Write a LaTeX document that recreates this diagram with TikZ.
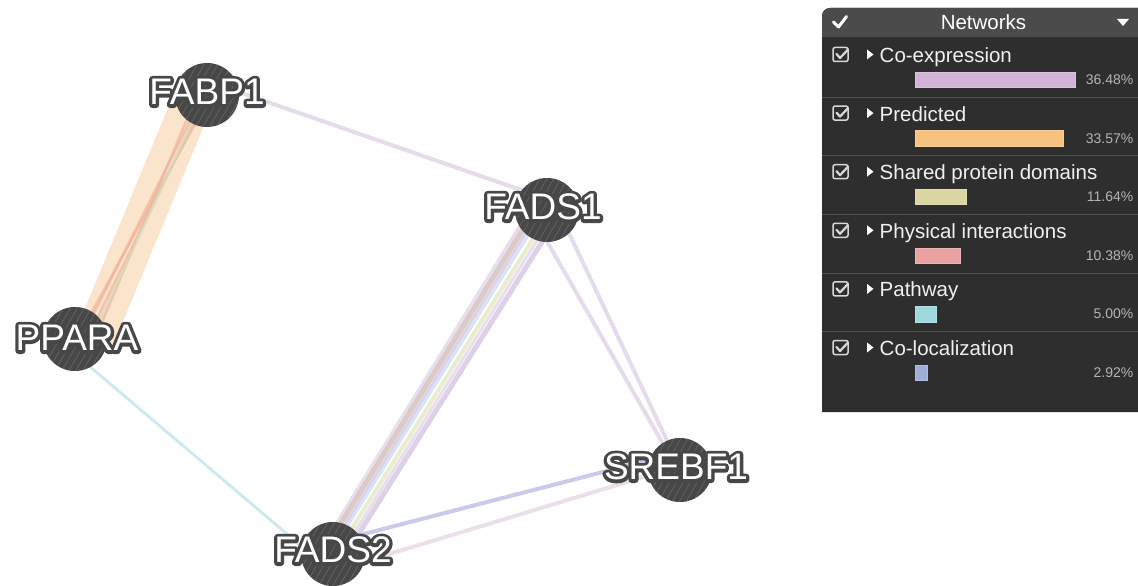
\documentclass[tikz,border=0pt]{standalone}
\usepackage{fontspec}
\setmainfont{Liberation Sans}
\usetikzlibrary{patterns.meta}
\definecolor{nodegray}{HTML}{474747}
\definecolor{hatch}{HTML}{626262}
\definecolor{coexp}{HTML}{D0B3D5}
\definecolor{pred}{HTML}{F7C17F}
\definecolor{shared}{HTML}{DBD5A2}
\definecolor{phys}{HTML}{E9A1A1}
\definecolor{pathw}{HTML}{9FD9DE}
\definecolor{coloc}{HTML}{9DAED9}
\definecolor{coexpline}{HTML}{E6DBEC}
\definecolor{purpline}{HTML}{DACBE5}
\definecolor{pathline}{HTML}{CCEBEF}
\definecolor{colocline}{HTML}{CACAEA}
\definecolor{pinkline}{HTML}{EDDFEA}
\definecolor{predband}{HTML}{FAE4CB}
\definecolor{physline}{HTML}{F2B39B}
\definecolor{greenline}{HTML}{D3DCBD}
\definecolor{taupeline}{HTML}{D6C6C2}
\definecolor{blueline}{HTML}{D2E2F3}
\definecolor{yellowline}{HTML}{E9EBC9}
\definecolor{panelbody}{HTML}{2E2E2E}
\definecolor{panelhead}{HTML}{4B4B4B}
\definecolor{sepline}{HTML}{505050}
\definecolor{pcttext}{HTML}{B5B5B5}
\definecolor{labtext}{HTML}{F0F0F0}
\definecolor{chkcol}{HTML}{D8D8D8}
\newcommand\outltext[1]{\leavevmode\rlap{\color{nodegray}\special{pdf:literal direct 2 Tr 6.6 w 1 j 1 J}#1\special{pdf:literal direct 0 Tr}}#1}
\pgfdeclarelayer{bg}
\pgfdeclarelayer{edges}
\pgfsetlayers{bg,edges,main}
\begin{document}
\begin{tikzpicture}[x=1pt,y=-1pt,
  gene/.style={circle, minimum size=64pt, inner sep=0pt, fill=nodegray,
    postaction={pattern={Lines[angle=60,distance=6pt,line width=0.8pt]}, pattern color=hatch}},
  glabel/.style={font=\fontsize{37}{37}\selectfont, text=white, inner sep=0pt},
  coexpedge/.style={line width=4pt, color=coexpline},
  pathedge/.style={line width=3pt, color=pathline},
  coledge/.style={line width=4pt, color=colocline},
  pinkedge/.style={line width=4pt, color=pinkline},
  physedge/.style={line width=2.5pt, color=physline, opacity=0.7},
  greenedge/.style={line width=2.5pt, color=greenline, opacity=0.8},
  bundle/.style={line width=4pt, opacity=0.9},
  lab/.style={font=\fontsize{20.5}{24}\selectfont, text=labtext, inner sep=0pt, anchor=base west},
  pct/.style={font=\fontsize{14}{16}\selectfont, text=pcttext, inner sep=0pt, anchor=base east},
  chk/.style={draw=chkcol, line width=1.5pt}
]
\begin{pgfonlayer}{bg}
\fill[white] (0,0) rectangle (1138,586);
\end{pgfonlayer}
\useasboundingbox (0,0) rectangle (1138,586);

% genes
\node[gene, label={[glabel, yshift=3pt]center:\outltext{FABP1}}] (fabp1) at (207,95) {};
\node[gene, label={[glabel, xshift=2pt, yshift=1pt]center:\outltext{PPARA}}] (ppara) at (75,339) {};
\node[gene, label={[glabel, xshift=-4pt, yshift=3pt]center:\outltext{FADS1}}] (fads1) at (547,210) {};
\node[gene, label={[glabel, xshift=-4pt, yshift=3pt]center:\outltext{SREBF1}}] (srebf1) at (680,470) {};
\node[gene, label={[glabel, yshift=4pt]center:\outltext{FADS2}}] (fads2) at (333,554) {};

\begin{pgfonlayer}{edges}
% FABP1 - PPARA
\draw[line width=40pt, color=predband] ([shift={(-12,0)}]fabp1.center) -- ([shift={(19,0)}]ppara.center);
\draw[physedge] ([shift={(-10,0)}]fabp1.center) -- ([shift={(20,0)}]ppara.center);
\draw[physedge] ([shift={(-4,0)}]fabp1.center) -- ([shift={(6,0)}]ppara.center);
\draw[physedge] ([shift={(0,0)}]fabp1.center) -- ([shift={(12,0)}]ppara.center);
\draw[physedge] ([shift={(4,0)}]fabp1.center) -- ([shift={(2,0)}]ppara.center);
\draw[greenedge] ([shift={(-2,0)}]fabp1.center) -- ([shift={(16,0)}]ppara.center);
% FABP1 - FADS1
\draw[coexpedge] ([shift={(0,-14)}]fabp1.center) -- ([shift={(0,-11)}]fads1.center);
% PPARA - FADS2
\draw[pathedge] ([shift={(0,15)}]ppara.center) -- ([shift={(0,19)}]fads2.center);
% FADS1 - FADS2 bundle
\draw[bundle, color=coexpline] ([shift={(-17,0)}]fads1.center) -- ([shift={(-15,0)}]fads2.center);
\draw[bundle, color=taupeline, line width=5pt] ([shift={(-12,0)}]fads1.center) -- ([shift={(-11,0)}]fads2.center);
\draw[bundle, color=purpline, line width=3pt] ([shift={(-7,0)}]fads1.center) -- ([shift={(-6,0)}]fads2.center);
\draw[bundle, color=blueline, line width=3pt] ([shift={(-3,0)}]fads1.center) -- ([shift={(-3,0)}]fads2.center);
\draw[bundle, color=yellowline] ([shift={(4,0)}]fads1.center) -- ([shift={(3,0)}]fads2.center);
\draw[bundle, color=coexpline, line width=3pt] ([shift={(9,0)}]fads1.center) -- ([shift={(8,0)}]fads2.center);
\draw[bundle, color=purpline, line width=5pt] ([shift={(15,0)}]fads1.center) -- ([shift={(13,0)}]fads2.center);
% FADS1 - SREBF1
\draw[coexpedge] ([shift={(-18,0)}]fads1.center) -- ([shift={(-2,0)}]srebf1.center);
\draw[coexpedge] ([shift={(11,0)}]fads1.center) -- ([shift={(1,0)}]srebf1.center);
% FADS2 - SREBF1
\draw[coledge] ([shift={(0,-12)}]fads2.center) -- ([shift={(0,-18)}]srebf1.center);
\draw[pinkedge] ([shift={(0,17)}]fads2.center) -- ([shift={(0,-4)}]srebf1.center);
\end{pgfonlayer}

% legend panel
\fill[panelbody] (822,412) [rounded corners=8pt]-- (822,8) [sharp corners]-- (1138,8) -- (1138,412) -- cycle;
\fill[panelhead] (822,37) [rounded corners=8pt]-- (822,8) [sharp corners]-- (1138,8) -- (1138,37) -- cycle;
\draw[white, line width=3pt, line cap=round, line join=round] (833.5,22) -- (838.5,27) -- (846.5,16.5);
\fill[white] (1117,19) -- (1129,19) -- (1123,26) -- cycle;
\node[font=\fontsize{20.5}{24}\selectfont, text=white, inner sep=0pt, anchor=base] (nettitle) at (983.5,30) {Networks};

\foreach \lab/\w/\col/\pc [count=\i from 0] in
  {Co-expression/160/coexp/36.48\%,
   Predicted/148/pred/33.57\%,
   Shared protein domains/51/shared/11.64\%,
   Physical interactions/45/phys/10.38\%,
   Pathway/21/pathw/5.00\%,
   Co-localization/12/coloc/2.92\%}{
  \pgfmathsetmacro{\yy}{\i*58.6}
  \begin{scope}[yshift=-\yy pt]
    \draw[chk, rounded corners=2pt] (833,47.5) rectangle (848,61.5);
    \draw[chkcol, line width=2.2pt, line cap=round, line join=round] (836.5,54) -- (840,58) -- (848,49.5);
    \fill[white] (867,49.5) -- (873.5,54.5) -- (867,59.5) -- cycle;
    \node[lab] (lab\i) at (879.5,62.5) {\lab};
    \fill[\col, draw=\col!80!white, line width=0.6pt] (915,72) rectangle ++(\w,15.5);
    \node[pct] (pct\i) at (1133.5,84.5) {\pc};
    \ifnum\i<5 \draw[sepline, line width=1pt] (822,97.3) -- (1138,97.3);\fi
  \end{scope}
}
\end{tikzpicture}
\end{document}
